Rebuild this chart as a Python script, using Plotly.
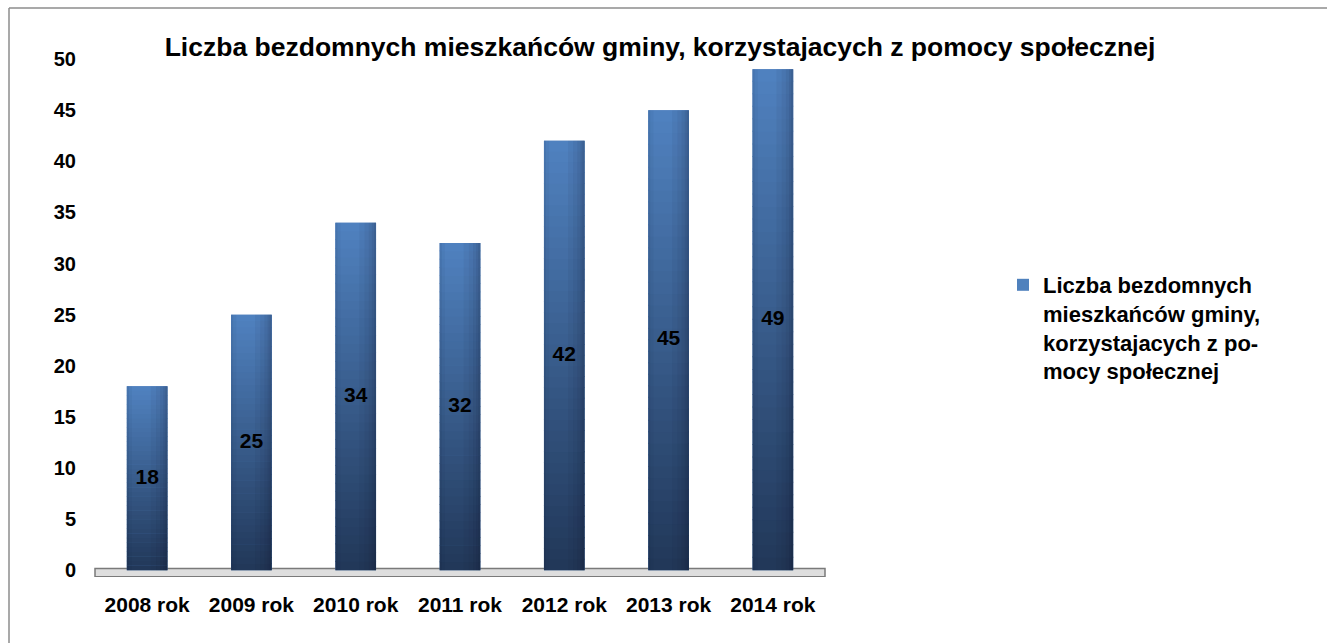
import plotly.graph_objects as go

# ---- data ----
categories = ["2008 rok", "2009 rok", "2010 rok", "2011 rok", "2012 rok", "2013 rok", "2014 rok"]
values = [18, 25, 34, 32, 42, 45, 49]
series_name = "Liczba bezdomnych<br>mieszkańców gminy,<br>korzystajacych z po-<br>mocy społecznej"
title_text = "Liczba bezdomnych mieszkańców gminy, korzystajacych z pomocy społecznej"
y_ticks = [0, 5, 10, 15, 20, 25, 30, 35, 40, 45, 50]

FONT = "Liberation Sans, Arial, sans-serif"
BAR_W = 0.39
TOP_RGB = (80, 130, 192)
BOT_RGB = (33, 55, 88)
N_SEG = 40

fig = go.Figure()

# main data trace (also provides legend entry)
fig.add_trace(go.Bar(
    x=categories, y=values, name=series_name, width=BAR_W,
    marker=dict(color="#4f81bd", line=dict(width=0)),
    showlegend=True, hoverinfo="x+y",
))

# vertical gradient: each bar split in slices of its own height
for k in range(N_SEG):
    t = (k + 0.5) / N_SEG
    r = round(BOT_RGB[0] + (TOP_RGB[0] - BOT_RGB[0]) * t)
    g = round(BOT_RGB[1] + (TOP_RGB[1] - BOT_RGB[1]) * t)
    b = round(BOT_RGB[2] + (TOP_RGB[2] - BOT_RGB[2]) * t)
    fig.add_trace(go.Bar(
        x=categories,
        y=[v / N_SEG * (1.0 if k == N_SEG - 1 else 1.08) for v in values],
        base=[v * k / N_SEG for v in values],
        width=BAR_W,
        marker=dict(color=f"rgb({r},{g},{b})", line=dict(width=0)),
        showlegend=False, hoverinfo="skip",
    ))

# cylinder shading: smooth darkening towards right edge, slight dark left edge
for w, a in [(0.16, 0.05), (0.11, 0.05), (0.07, 0.06), (0.04, 0.07), (0.02, 0.08)]:
    fig.add_trace(go.Bar(
        x=categories, y=values, width=w, offset=BAR_W / 2 - w,
        marker=dict(color=f"rgba(10,20,40,{a})", line=dict(width=0)),
        showlegend=False, hoverinfo="skip",
    ))
for w, a in [(0.05, 0.04), (0.02, 0.06)]:
    fig.add_trace(go.Bar(
        x=categories, y=values, width=w, offset=-BAR_W / 2,
        marker=dict(color=f"rgba(10,20,40,{a})", line=dict(width=0)),
        showlegend=False, hoverinfo="skip",
    ))

# data labels in the middle of bars
fig.add_trace(go.Scatter(
    x=categories, y=[v / 2 for v in values], mode="text",
    text=[str(v) for v in values],
    textfont=dict(family=FONT, size=21, color="black", weight="bold"),
    showlegend=False, hoverinfo="skip",
))

L, R, T, B = 95, 502, 59, 66
W, H = 1327, 643
pw, ph = W - L - R, H - T - B

def px_x(p):
    return (p - L) / pw

def px_y(p):
    return (H - B - p) / ph

shapes = [
    # floor
    dict(type="rect", xref="x domain", yref="y", x0=0, x1=1, y0=-0.62, y1=0.18,
         fillcolor="#dedede", line=dict(color="#7a7a7a", width=1.5), layer="below"),
    # outer border (left + top)
    dict(type="line", xref="paper", yref="paper", x0=px_x(9), x1=px_x(9), y0=px_y(643), y1=px_y(8),
         line=dict(color="#8c8c8c", width=1.5)),
    dict(type="line", xref="paper", yref="paper", x0=px_x(9), x1=px_x(1327), y0=px_y(8), y1=px_y(8),
         line=dict(color="#8c8c8c", width=1.5)),
]

fig.update_layout(
    width=W, height=H,
    margin=dict(l=L, r=R, t=T, b=B),
    paper_bgcolor="white", plot_bgcolor="white",
    barmode="overlay",
    title=dict(text=title_text, x=660 / W, xanchor="center", y=1 - 47 / H, yanchor="middle",
               font=dict(family=FONT, size=26.5, color="black", weight="bold")),
    xaxis=dict(type="category", categoryorder="array", categoryarray=categories,
               showgrid=False, zeroline=False, showline=False, ticks="",
               ticklabelstandoff=13,
               tickfont=dict(family=FONT, size=21, color="black", weight="bold")),
    yaxis=dict(range=[-0.65, 50], tickvals=y_ticks, showgrid=False, zeroline=False, showline=False,
               ticks="", ticklabelstandoff=18,
               tickfont=dict(family=FONT, size=20, color="black", weight="bold")),
    legend=dict(x=px_x(1003), y=px_y(264), xanchor="left", yanchor="top", valign="top",
                font=dict(family=FONT, size=22, color="black", weight="bold"),
                bgcolor="rgba(0,0,0,0)", itemclick=False),
    shapes=shapes,
)

fig.write_html("out.html", config={"displayModeBar": False},
               post_script="document.body.style.margin='0';document.body.style.padding='0';")
